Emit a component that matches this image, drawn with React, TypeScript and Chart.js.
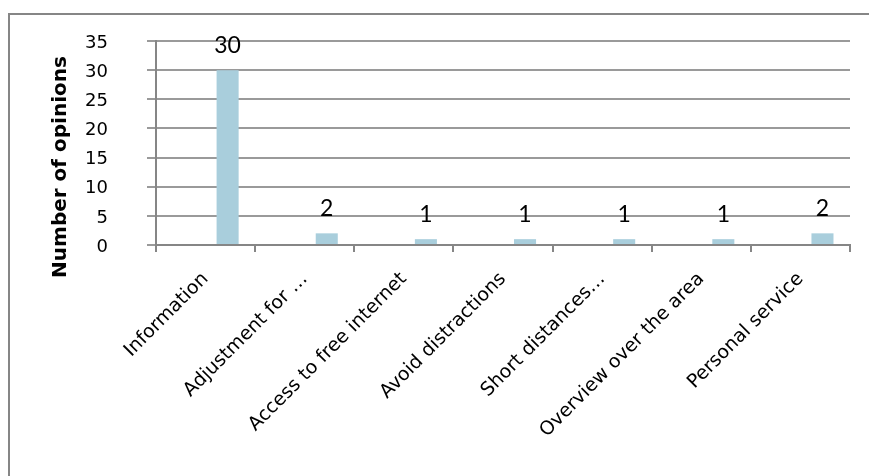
import React, { useEffect, useRef } from 'react';
import { Chart, registerables } from 'chart.js';

Chart.register(...registerables);

const categories: string[] = [
  'Information',
  'Adjustment for …',
  'Access to free internet',
  'Avoid distractions',
  'Short distances…',
  'Overview over the area',
  'Personal service',
];
const emptySeriesA: (number | null)[] = [null, null, null, null, null, null, null];
const emptySeriesB: (number | null)[] = [null, null, null, null, null, null, null];
const opinions: number[] = [30, 2, 1, 1, 1, 1, 2];
const yMin = 0;
const yMax = 35;
const yStep = 5;
const yTitle = 'Number of opinions';

const BAR_COLOR = '#A9CEDC';
const GRID_COLOR = '#9a9a9a';
const AXIS_COLOR = '#868686';

const frame = {
  id: 'frame',
  beforeDraw(chart: any) {
    const ctx = chart.ctx;
    ctx.save();
    ctx.strokeStyle = AXIS_COLOR;
    ctx.lineWidth = 2;
    ctx.strokeRect(9, 14, chart.width + 20, chart.height + 20);
    ctx.restore();
  },
};

const valueLabels = {
  id: 'valueLabels',
  afterDatasetsDraw(chart: any) {
    const ctx = chart.ctx;
    const idx = chart.data.datasets.length - 1;
    const meta = chart.getDatasetMeta(idx);
    ctx.save();
    ctx.font = '23px Lato';
    ctx.fillStyle = '#000';
    ctx.textAlign = 'center';
    ctx.textBaseline = 'alphabetic';
    meta.data.forEach((bar: any, i: number) => {
      const v = chart.data.datasets[idx].data[i];
      if (v == null) return;
      ctx.fillText(String(v), bar.x, bar.y - 17);
    });
    ctx.restore();
  },
};

const axisTitle = {
  id: 'axisTitle',
  afterDraw(chart: any) {
    const ctx = chart.ctx;
    const area = chart.chartArea;
    ctx.save();
    ctx.translate(area.left - 95, (area.top + area.bottom) / 2 + 24);
    ctx.rotate(-Math.PI / 2);
    ctx.font = 'bold 20px "DejaVu Sans"';
    ctx.fillStyle = '#000';
    ctx.textAlign = 'center';
    ctx.textBaseline = 'middle';
    ctx.fillText(yTitle, 0, 0);
    ctx.restore();
  },
};

export default function App() {
  const canvasRef = useRef<HTMLCanvasElement | null>(null);

  useEffect(() => {
    if (!canvasRef.current) return;
    const chart = new Chart(canvasRef.current, {
      type: 'bar',
      data: {
        labels: categories,
        datasets: [
          { label: 'Series 1', data: emptySeriesA, backgroundColor: BAR_COLOR, categoryPercentage: 0.667, barPercentage: 1 },
          { label: 'Series 2', data: emptySeriesB, backgroundColor: BAR_COLOR, categoryPercentage: 0.667, barPercentage: 1 },
          { label: yTitle, data: opinions, backgroundColor: BAR_COLOR, categoryPercentage: 0.667, barPercentage: 1 },
        ],
      },
      options: {
        animation: false,
        responsive: false,
        maintainAspectRatio: false,
        devicePixelRatio: 1,
        layout: { padding: { left: 0, top: 41, right: 19, bottom: 0 } },
        plugins: {
          legend: { display: false },
          tooltip: { enabled: false },
          title: { display: false },
        },
        scales: {
          x: {
            offset: true,
            afterFit: (scale: any) => {
              scale.height = 231;
              scale.paddingLeft = 0;
              scale.paddingRight = 0;
            },
            grid: {
              display: true,
              drawOnChartArea: false,
              drawTicks: true,
              tickLength: 7,
              offset: true,
              color: AXIS_COLOR,
              lineWidth: 2,
            },
            border: { display: true, color: AXIS_COLOR, width: 2 },
            ticks: {
              autoSkip: false,
              minRotation: 45,
              maxRotation: 45,
              padding: 16,
              color: '#000',
              font: { family: 'DejaVu Sans', size: 19 },
            },
          },
          y: {
            min: yMin,
            max: yMax,
            afterFit: (scale: any) => {
              scale.width = 156;
              scale.paddingTop = 0;
              scale.paddingBottom = 0;
            },
            grid: {
              color: GRID_COLOR,
              lineWidth: 2,
              drawTicks: true,
              tickLength: 9,
            },
            border: { display: true, color: AXIS_COLOR, width: 2 },
            ticks: {
              stepSize: yStep,
              padding: 39,
              labelOffset: 2,
              color: '#000',
              font: { family: 'DejaVu Sans', size: 18 },
            },
          },
        },
      },
      plugins: [frame, valueLabels, axisTitle],
    });
    return () => chart.destroy();
  }, []);

  return (
    <div style={{ position: 'fixed', left: 0, top: 0, width: 869, height: 476 }}>
      <canvas ref={canvasRef} width={869} height={476} />
    </div>
  );
}
